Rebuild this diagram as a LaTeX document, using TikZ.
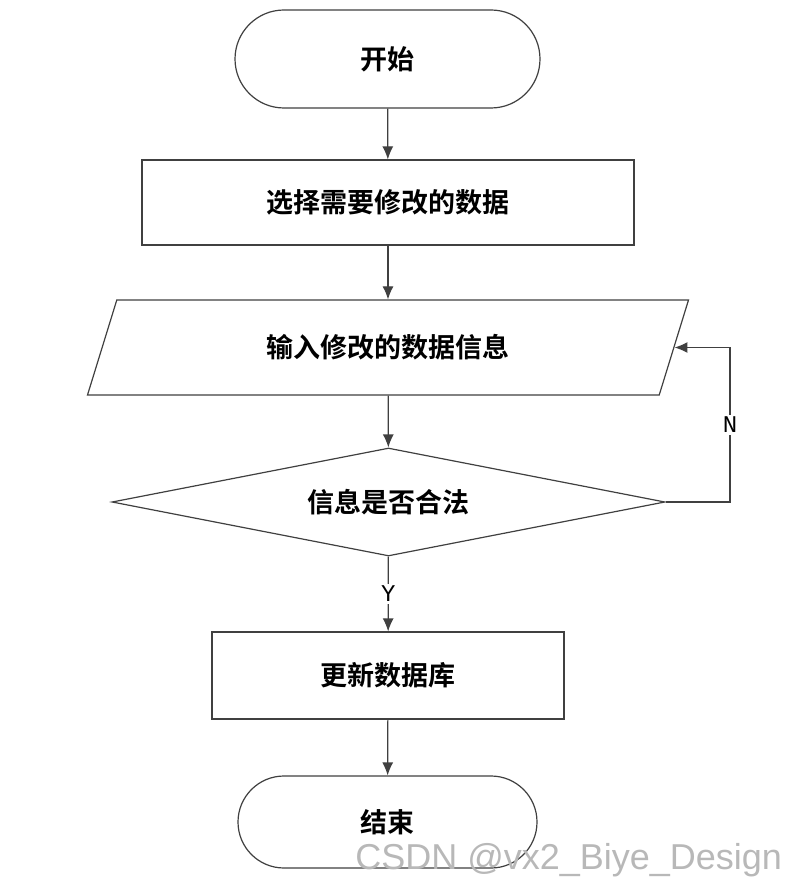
\documentclass[tikz,border=0pt]{standalone}
\usepackage{fontspec}
\newfontfamily\cjk{Noto Sans CJK SC}[BoldFont={* Bold}]
\setmonofont{Liberation Mono}
\setsansfont{Liberation Sans}
\usetikzlibrary{shapes.geometric,arrows.meta}
\tikzset{every picture/.style={line width=1.2pt}}
\tikzset{
  box/.style={draw=black!75, fill=white, inner sep=0pt, font=\cjk\fontsize{27}{30}\selectfont\bfseries},
  flow/.style={draw=black!75, ->, >={Latex[length=13pt,width=11pt]}},
  tag/.style={fill=white, inner sep=2pt, font=\ttfamily\fontsize{24}{26}\selectfont},
}

\begin{document}
\begin{tikzpicture}[x=1pt,y=1pt,yscale=-1,xscale=1]
\useasboundingbox (0,0) rectangle (802,896);

% start / end
\node [box, rounded corners=49pt, minimum width=305pt, minimum height=98pt] (start) at (387.5,59) {开始};
\node [box, rounded corners=46pt, minimum width=299pt, minimum height=92pt] (stop) at (387.5,822) {结束};
% process boxes
\node [box, minimum width=492pt, minimum height=85pt] (select) at (388,202.5) {选择需要修改的数据};
\node [box, trapezium, trapezium stretches=true, trapezium left angle=63, trapezium right angle=117,
  minimum width=602pt, minimum height=95pt] (input) at (388,347.5) {输入修改的数据信息};
\node [box, diamond, aspect=5.1, minimum width=553pt, minimum height=108pt] (check) at (388.5,502) {信息是否合法};
\node [box, minimum width=352pt, minimum height=87pt] (update) at (388,675.5) {更新数据库};
\coordinate (loop) at (730,502);

% connectors
\draw [flow] (start) -- (select);
\draw [flow] (select) -- (input);
\draw [flow] (input) -- (check);
\draw [flow] (check) -- node [tag] {Y} (update);
\draw [flow] (update) -- (stop);
\draw [flow] (check.east) -- (loop) -- node [tag] {N} (loop |- input.east) -- (input.east);

% watermark
\node [text=black!28, font=\sffamily\fontsize{36}{38}\selectfont, anchor=east] (mark) at (786,860) {CSDN @vx2\_Biye\_Design};
\end{tikzpicture}
\end{document}
